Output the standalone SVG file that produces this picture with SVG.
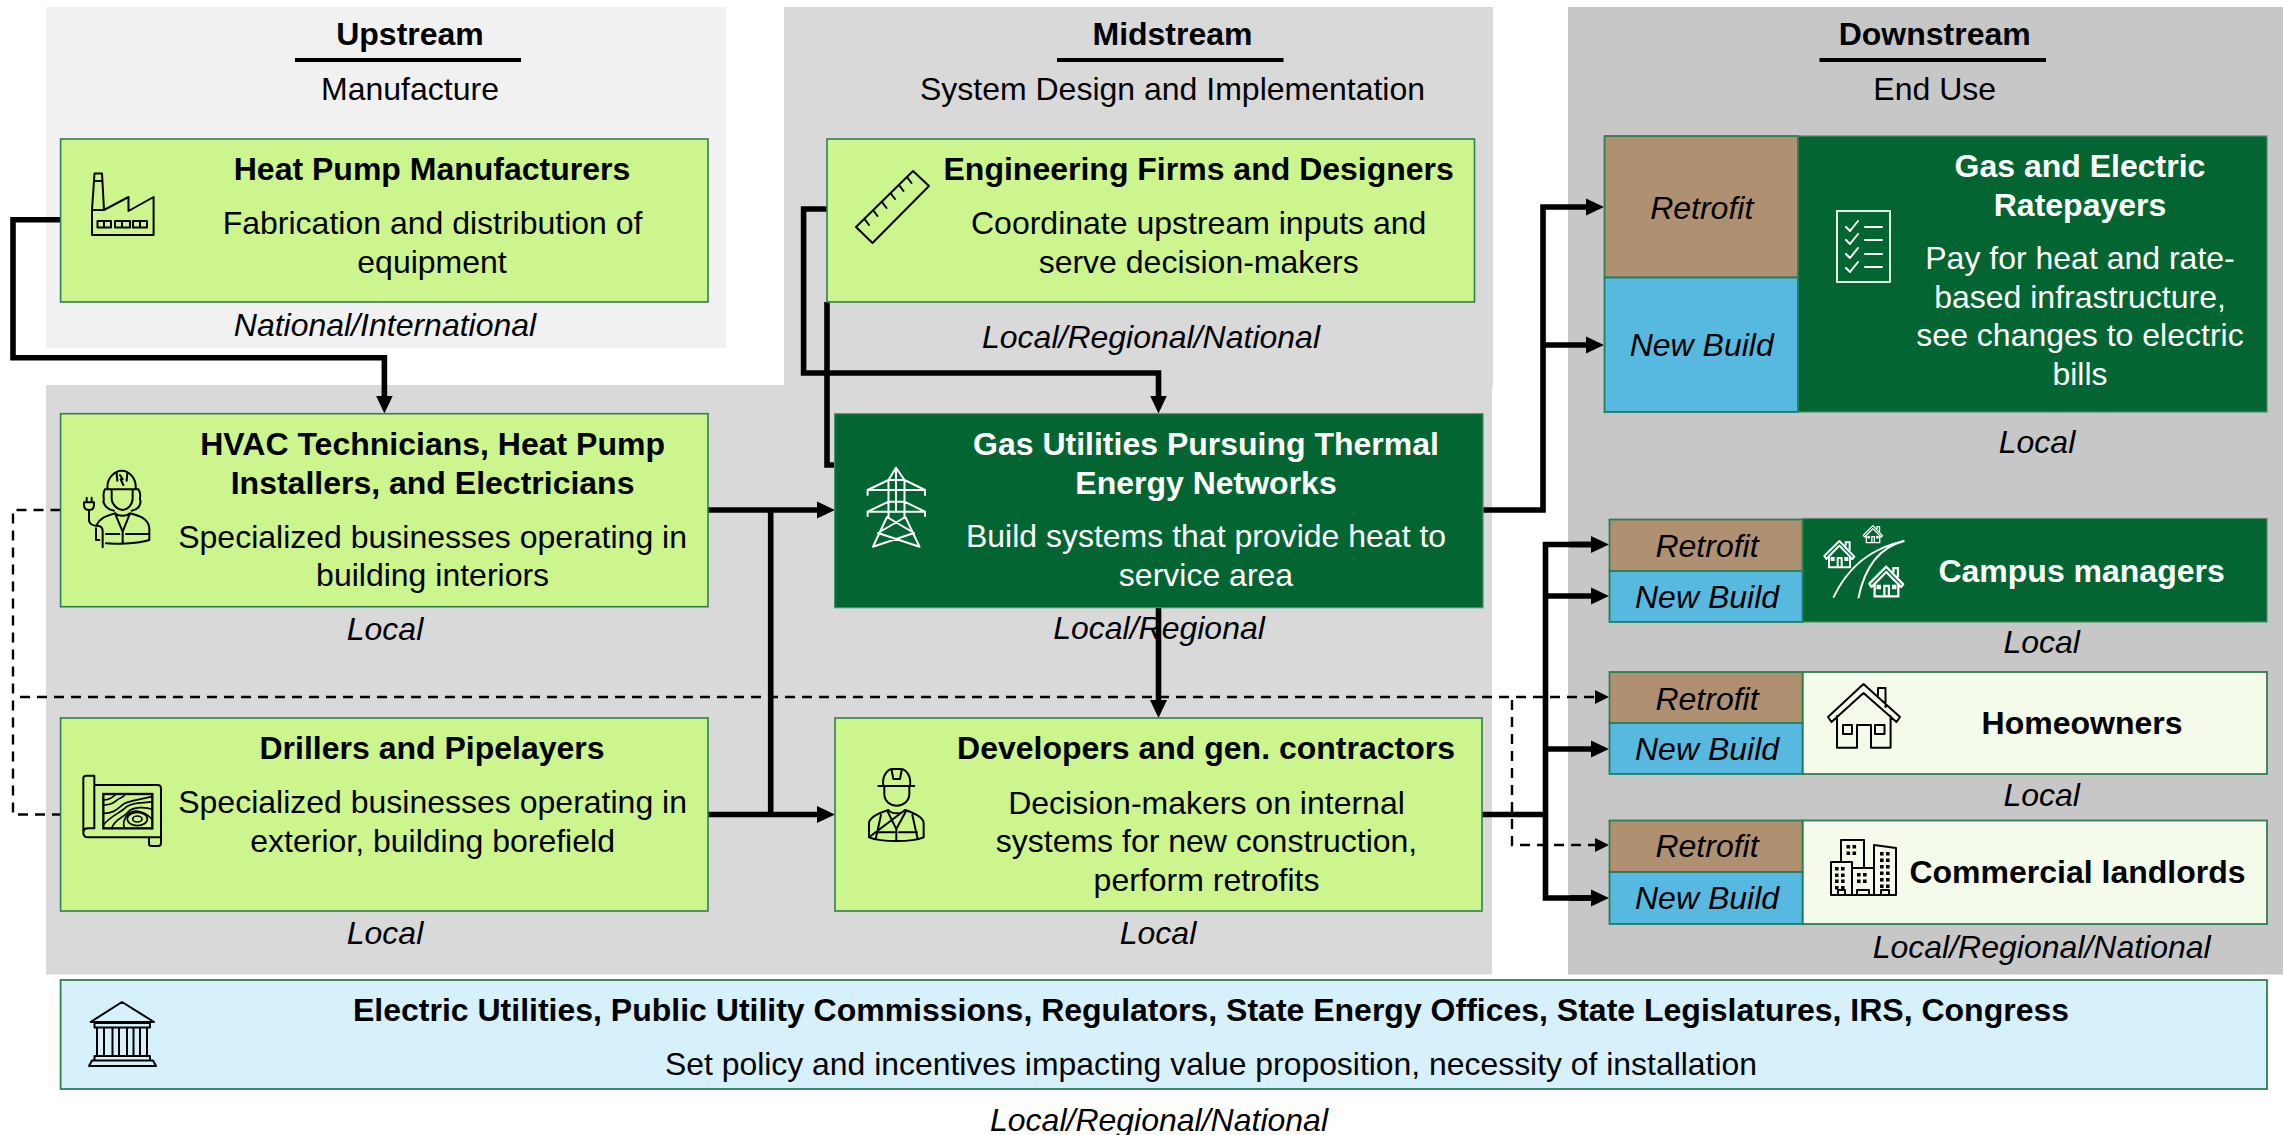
<svg xmlns="http://www.w3.org/2000/svg" xmlns:xlink="http://www.w3.org/1999/xlink" width="2283" height="1135" viewBox="0 0 2283 1135">
<style>
text{font-family:"Liberation Sans",Arial,sans-serif;font-size:32px;fill:#000;text-anchor:middle}
.b{font-weight:bold}
.i{font-style:italic}
.w{fill:#fff}
.box{fill:#ccf58d;stroke:#2f7f4f;stroke-width:1.6}
.dark{fill:#036531;stroke:#4d8f68;stroke-width:1.2}
.light{fill:#f4fbea;stroke:#2f7f4f;stroke-width:1.8}
.pol{fill:#d6f0fc;stroke:#2f7f4f;stroke-width:1.8}
.ret{fill:#af9070;stroke:#2f7f4f;stroke-width:1.8}
.new{fill:#57b8e0;stroke:#1f7f5f;stroke-width:1.8}
.ik{fill:none;stroke:#000;stroke-width:2;stroke-linejoin:round;stroke-linecap:round}
.iw{fill:none;stroke:#fff;stroke-width:2;stroke-linejoin:round;stroke-linecap:round}
.sol{fill:none;stroke:#000;stroke-width:5.6;stroke-linejoin:miter}
.das{fill:none;stroke:#000;stroke-width:2.4;stroke-dasharray:10 7}
.ul{stroke:#000;stroke-width:4}
</style>
<defs>
<marker id="ah" markerUnits="userSpaceOnUse" markerWidth="18" markerHeight="18" refX="8" refY="9" orient="auto"><path d="M0 .5L18 9L0 17.5Z" fill="#000"/></marker>
<marker id="ad" markerUnits="userSpaceOnUse" markerWidth="15" markerHeight="16" refX="7" refY="8" orient="auto"><path d="M0 1L14 8L0 15Z" fill="#000"/></marker>
<g id="hs">
<path d="M0 45L45 0L90 47L84 54L45 14L6 54Z" stroke="#fff" stroke-width="6" fill="none" stroke-linejoin="round"/>
<path d="M14 44V79H77V44M40 79V51H52V79M64 16V4H76V28" stroke="#fff" stroke-width="6" fill="none"/>
<rect x="19" y="48" width="12" height="12" fill="#fff"/><rect x="60" y="48" width="12" height="12" fill="#fff"/>
</g>
<path id="fw" d="M0 0h3.6v3.6h-3.6zM6 0h3.6v3.6h-3.6zM0 6.500h3.600v3.600h-3.600zM6 6.500h3.600v3.600h-3.600z" fill="#000"/>
</defs>

<g id="panels">
<rect x="46" y="7" width="680" height="341" fill="#f1f1f1"/>
<rect x="784" y="7" width="709" height="380" fill="#d9d9d9"/>
<rect x="46" y="385" width="1446" height="589.500" fill="#d9d9d9"/>
<rect x="1568" y="7" width="715" height="967.500" fill="#c7c7c7"/>
<path class="ul" d="M295 60H521M1057 60H1283.500M1819.500 60H2046"/>
<text class="b" x="410" y="45.400">Upstream</text>
<text x="410" y="100.400">Manufacture</text>
<text class="b" x="1172.500" y="45.400">Midstream</text>
<text x="1172.500" y="100.400">System Design and Implementation</text>
<text class="b" x="1934.700" y="45.400">Downstream</text>
<text x="1934.700" y="100.400">End Use</text>
</g>

<g id="connectors">
<path class="sol" d="M60.500 219.700H13V357.700H384.400V403.500" marker-end="url(#ah)"/>
<path class="sol" d="M827 209H803.600V373H1158.500V403.500" marker-end="url(#ah)"/>
<path class="sol" d="M827 302V465H835"/>
<path class="sol" d="M708 510H825" marker-end="url(#ah)"/>
<path class="sol" d="M708 814.500H825" marker-end="url(#ah)"/>
<path class="sol" d="M770.700 510V814.500"/>
<path class="sol" d="M1158.500 607V708" marker-end="url(#ah)"/>
<path class="sol" d="M1483 510H1543V207H1594" marker-end="url(#ah)"/>
<path class="sol" d="M1543 345H1594" marker-end="url(#ah)"/>
<path class="sol" d="M1482 814.500H1545.500"/>
<path class="sol" d="M1599 544.500H1545.500V898H1599"/>
<path class="sol" d="M1570 544.500H1599" marker-end="url(#ah)"/>
<path class="sol" d="M1545.500 596H1599" marker-end="url(#ah)"/>
<path class="sol" d="M1545.500 749H1599" marker-end="url(#ah)"/>
<path class="sol" d="M1570 898H1599" marker-end="url(#ah)"/>
<path class="das" d="M60.500 510H13V814.500H60.500"/>
<path class="das" d="M20 697H1602" marker-end="url(#ad)"/>
<path class="das" d="M1512 700V845H1602" marker-end="url(#ad)"/>
</g>

<g id="node-heat-pump-manufacturers">
<rect class="box" x="60.600" y="139" width="647.400" height="163"/>
<path class="ik" d="M92 210L94.500 173.500H102L104 210M94 181H102.500M92 210H104L128.500 197V211L153.600 197V235H92Z"/>
<path class="ik" stroke-width="1.500" d="M97.500 221H111V227.500H97.500ZM115 221H130V227.500H115ZM133 221H147V227.500H133ZM104 221V227.500M122 221V227.500M140 221V227.500"/>
<text class="b" x="432" y="180.300">Heat Pump Manufacturers</text>
<text x="432.600" y="234.300">Fabrication and distribution of</text>
<text x="432" y="273.300">equipment</text>
<text class="i" x="385" y="336.300">National/International</text>
</g>

<g id="node-engineering-firms">
<rect class="box" x="827" y="139" width="647.500" height="163"/>
<path class="ik" d="M913 171L929 186L872.500 243L856 227ZM864.500 219L869 225M873 210L877.500 216M882 202L886.500 208M890.500 193L895 199M899 185L903.500 191M907 177L911.500 183"/>
<text class="b" x="1198.700" y="180.300">Engineering Firms and Designers</text>
<text x="1198.700" y="234.300">Coordinate upstream inputs and</text>
<text x="1198.700" y="273.300">serve decision-makers</text>
<text class="i" x="1151" y="347.800">Local/Regional/National</text>
</g>

<g id="node-hvac-technicians">
<rect class="box" x="60.600" y="413.700" width="647.400" height="193"/>
<g transform="translate(70,460) scale(.3333)">
<path class="ik" style="stroke-width:6" d="M105 88H205M113 88C108 55 135 32 155 32C178 32 200 55 197 88M150 45L158 58L152 58L160 75M140 40L142 62M172 40L170 62M125 88V115C125 135 145 150 158 150C172 150 188 135 188 115V88M105 88C95 105 105 115 100 125C105 140 115 150 132 152M205 88C218 105 205 115 212 125C210 140 200 150 185 152M80 195C90 172 110 168 135 160M180 160C210 168 235 175 238 205V240C200 252 130 252 108 250M78 205V240H88M135 160L158 215L180 160M158 215V250M108 222H148M168 222H238M135 160C145 170 170 170 180 160M42 127H72V135C72 150 60 150 57 150C52 150 42 150 42 135ZM50 127V113M65 127V113M57 150V180C57 192 70 198 85 198C95 198 98 205 98 215V262"/>
</g>
<text class="b" x="432.600" y="455.300">HVAC Technicians, Heat Pump</text>
<text class="b" x="432.600" y="494.300">Installers, and Electricians</text>
<text x="432.600" y="548">Specialized businesses operating in</text>
<text x="432.600" y="586.300">building interiors</text>
<text class="i" x="385" y="640.300">Local</text>
</g>

<g id="node-drillers">
<rect class="box" x="60.600" y="718" width="647.400" height="193"/>
<g transform="translate(75,770) scale(.3333)">
<path class="ik" style="stroke-width:6" d="M58 175V17H33Q25 17 25 25V188Q25 202 40 202H222V222Q222 228 230 228H250Q258 228 258 220V55Q258 45 248 45H58M58 175H40Q25 175 25 188M222 202H258"/>
<rect x="85" y="72" width="147" height="103" fill="none" stroke="#000" stroke-width="7"/>
<path class="ik" style="stroke-width:5" d="M85 90C110 90 110 80 125 72M85 105C120 105 120 90 135 85C150 78 150 75 150 72M85 130C125 130 130 110 150 100C170 90 210 85 232 80M85 165C110 135 135 130 155 110C175 95 210 100 232 95M110 175C120 145 145 145 160 125C175 110 210 110 232 118M150 175C140 160 150 140 165 128C180 118 215 125 232 150M225 175H232"/>
<ellipse cx="187" cy="147" rx="30" ry="20" class="ik" style="stroke-width:5"/>
<ellipse cx="187" cy="147" rx="14" ry="9" class="ik" style="stroke-width:5"/>
</g>
<text class="b" x="432" y="759.300">Drillers and Pipelayers</text>
<text x="432.600" y="813.300">Specialized businesses operating in</text>
<text x="432.600" y="852.300">exterior, building borefield</text>
<text class="i" x="385" y="944.300">Local</text>
</g>

<g id="node-gas-utilities">
<rect class="dark" x="834.600" y="413.700" width="648.400" height="194"/>
<path class="iw" d="M896 467.700L888.500 480V517M896 467.700L904.500 480V517M888.500 480L867.600 490V495M904.500 480L925 490V495M867.600 490H925M888.500 480H904.500M888.500 501.700L867.600 511.700V516M904.500 501.700L925 511.700V516M867.600 511.700H925M888.500 501.700H904.500M896 467.700V490M896 490V511.700M887 517L873 546.700M905.400 517L919.500 546.700M887 517L914 533L873 546.700M905.400 517L878 533L919.500 546.700"/>
<text class="b w" x="1206" y="455">Gas Utilities Pursuing Thermal</text>
<text class="b w" x="1206" y="494">Energy Networks</text>
<text class="w" x="1206" y="547">Build systems that provide heat to</text>
<text class="w" x="1206" y="586">service area</text>
<text class="i" x="1159" y="639.300">Local/Regional</text>
</g>

<g id="node-developers">
<rect class="box" x="835" y="718" width="647" height="193"/>
<g transform="translate(855,755) scale(.3333)">
<path class="ik" style="stroke-width:6" d="M70 93H178M85 93C80 60 100 42 112 42H138C150 42 170 60 165 93M110 45L115 72H135L140 45M88 93V118C88 138 105 152 125 152C145 152 163 138 163 118V93M42 247V205C42 190 60 178 100 165M150 165C190 178 206 190 206 205V247C170 262 80 262 42 247ZM100 165C110 178 140 178 150 165M98 170L124 222L152 170M124 222V255M78 180L62 252M172 180L188 252M65 232H118M132 232H186"/>
</g>
<text class="b" x="1206" y="759.300">Developers and gen. contractors</text>
<text x="1206.500" y="814">Decision-makers on internal</text>
<text x="1206.500" y="852.300">systems for new construction,</text>
<text x="1206.500" y="891.300">perform retrofits</text>
<text class="i" x="1158" y="944.300">Local</text>
</g>

<g id="node-ratepayers">
<rect class="dark" x="1798" y="136" width="469" height="276"/>
<rect class="ret" x="1604.500" y="136" width="193.500" height="141.500"/>
<rect class="new" x="1604.500" y="277.500" width="193.500" height="134.500"/>
<rect x="1837" y="211" width="53" height="71" fill="none" stroke="#fff" stroke-width="1.800"/>
<path class="iw" d="M1846 227L1850 231L1858 221M1846 240L1850 244L1858 234M1846 254L1850 258L1858 248M1846 268L1850 272L1858 262M1865 227H1882M1865 240H1882M1865 254H1882M1865 267H1882"/>
<text class="i" x="1701.700" y="219.300">Retrofit</text>
<text class="i" x="1701.700" y="356">New Build</text>
<text class="b w" x="2080" y="177">Gas and Electric</text>
<text class="b w" x="2080" y="216.300">Ratepayers</text>
<text class="w" x="2080" y="269.300">Pay for heat and rate-</text>
<text class="w" x="2080" y="307.700">based infrastructure,</text>
<text class="w" x="2080" y="346">see changes to electric</text>
<text class="w" x="2080" y="385">bills</text>
<text class="i" x="2037" y="453.400">Local</text>
</g>

<g id="node-campus-managers">
<rect class="dark" x="1802.600" y="518.500" width="464.400" height="103.500"/>
<rect class="ret" x="1609.500" y="519.500" width="193" height="51.500"/>
<rect class="new" x="1609.500" y="571" width="193" height="51"/>
<g transform="translate(1815,515) scale(.3333)">
<path d="M55 248C85 185 140 105 268 78C200 95 150 150 130 250" fill="none" stroke="#fff" stroke-width="6"/>
<use xlink:href="#hs" href="#hs" transform="translate(28,78)"/>
<use xlink:href="#hs" href="#hs" transform="translate(145,32) scale(.64)"/>
<use xlink:href="#hs" href="#hs" transform="translate(163,155) scale(1.13)"/>
</g>
<text class="i" x="1707" y="557.300">Retrofit</text>
<text class="i" x="1707" y="608">New Build</text>
<text class="b w" x="2081.600" y="581.500">Campus managers</text>
<text class="i" x="2041.700" y="653.300">Local</text>
</g>

<g id="node-homeowners">
<rect class="light" x="1802.600" y="672" width="464.400" height="102"/>
<rect class="ret" x="1609.500" y="672" width="193" height="51"/>
<rect class="new" x="1609.500" y="723" width="193" height="51"/>
<path class="ik" d="M1863.500 684L1900 717L1896.500 722L1863.500 693L1831.500 722L1828 717ZM1837 716V747.700H1857V725H1871V747.700H1890.600V716M1843 725H1852V734H1843ZM1875 725H1884.500V734H1875ZM1878 695V688H1885.500V707"/>
<text class="i" x="1707" y="710.300">Retrofit</text>
<text class="i" x="1707" y="760.300">New Build</text>
<text class="b" x="2082" y="734.300">Homeowners</text>
<text class="i" x="2041.700" y="806.300">Local</text>
</g>

<g id="node-commercial-landlords">
<rect class="light" x="1802.600" y="820.500" width="464.400" height="103.500"/>
<rect class="ret" x="1609.500" y="820.500" width="193" height="51.500"/>
<rect class="new" x="1609.500" y="872" width="193" height="52"/>
<path class="ik" d="M1841 862V840H1864V868M1831 895V862H1852V895M1852 895V868H1874V895M1874 868V845L1896 848V895M1831 895H1896M1838 895V890H1845V895M1857 895V890H1869V895M1881 895V890H1889V895"/>
<use xlink:href="#fw" href="#fw" x="1846.500" y="845"/>
<use xlink:href="#fw" href="#fw" x="1835" y="867"/>
<use xlink:href="#fw" href="#fw" x="1835" y="879.500"/>
<use xlink:href="#fw" href="#fw" x="1857" y="873"/>
<use xlink:href="#fw" href="#fw" x="1880" y="852"/>
<use xlink:href="#fw" href="#fw" x="1880" y="865"/>
<use xlink:href="#fw" href="#fw" x="1880" y="878"/>
<text class="i" x="1707" y="857">Retrofit</text>
<text class="i" x="1707" y="909.300">New Build</text>
<text class="b" x="2077.500" y="883.300">Commercial landlords</text>
<text class="i" x="2041.700" y="957.500">Local/Regional/National</text>
</g>

<g id="node-policy">
<rect class="pol" x="60.600" y="980" width="2206.400" height="109"/>
<path class="ik" d="M122 1002L154 1022H90.600ZM94.500 1023H150V1027.500H94.500ZM97 1027.500V1056M104 1027.500V1056M112.500 1027.500V1056M119 1027.500V1056M127 1027.500V1056M133.500 1027.500V1056M140 1027.500V1056M147 1027.500V1056M94.500 1056H150V1060.500H94.500ZM92 1060.500H153L156 1066H89Z"/>
<text class="b" x="1211" y="1021.300">Electric Utilities, Public Utility Commissions, Regulators, State Energy Offices, State Legislatures, IRS, Congress</text>
<text x="1211" y="1075.300" style="font-size:31.900px">Set policy and incentives impacting value proposition, necessity of installation</text>
<text class="i" x="1159" y="1131.300">Local/Regional/National</text>
</g>
</svg>
